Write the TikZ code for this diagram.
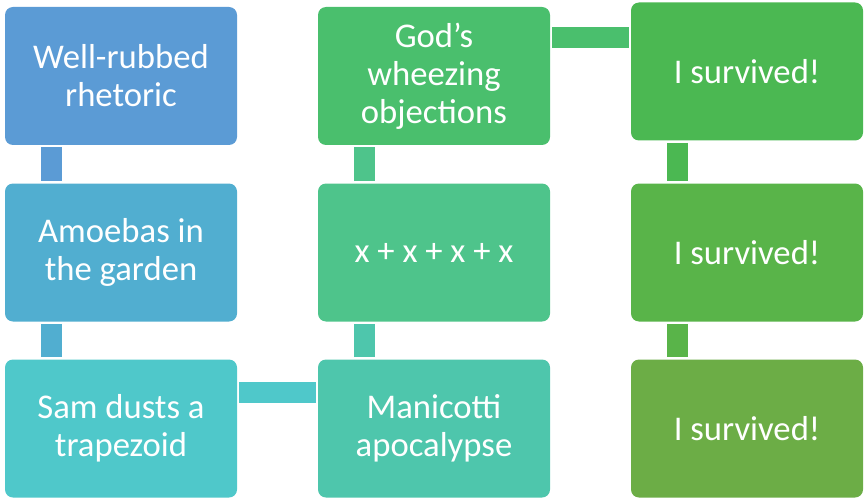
\documentclass[tikz,border=0pt]{standalone}
\usepackage{fontspec}
\setmainfont{Carlito}
\definecolor{cA}{HTML}{5B9BD5}
\definecolor{cB}{HTML}{51AED0}
\definecolor{cC}{HTML}{4FC8CA}
\definecolor{cD}{HTML}{4EC6AC}
\definecolor{cE}{HTML}{4EC48B}
\definecolor{cF}{HTML}{4ABF6D}
\definecolor{cG}{HTML}{4BB852}
\definecolor{cH}{HTML}{59B449}
\definecolor{cI}{HTML}{6CAD46}
\tikzset{blk/.style = {rounded corners = 6pt, inner sep = 0, minimum width = 174pt, minimum height = 103.5pt, text = white, align = center, font = \fontsize{26}{28.5}\selectfont}}
\tikzset{bar/.style = {line width = 15.75pt, shorten > = 1.5pt, shorten < = 1.5pt}}

\begin{document}
\begin{tikzpicture}[x=0.75pt, y=-0.75pt]
\useasboundingbox (0,0) rectangle (866,499);
\node [blk, fill=cA] (a) at (121,76) {Well-rubbed\\rhetoric};
\node [blk, fill=cB] (b) at (121,252.5) {Amoebas in\\the garden};
\node [blk, fill=cC] (c) at (121,428.5) {Sam dusts a\\trapezoid};
\node [blk, fill=cD] (d) at (434,428.5) {Manicotti\\apocalypse};
\node [blk, fill=cE] (e) at (434,252.5) {x + x + x + x};
\node [blk, fill=cF] (f) at (434,76) {God’s\\wheezing\\objections};
\node [blk, fill=cG] (g) at (747,71.5) {I survived!};
\node [blk, fill=cH] (h) at (747,252.5) {I survived!};
\node [blk, fill=cI] (i) at (747,428.5) {I survived!};
\draw [bar, cA] ([xshift=35pt]a.south west) -- ([xshift=35pt]b.north west);
\draw [bar, cB] ([xshift=35pt]b.south west) -- ([xshift=35pt]c.north west);
\draw [bar, cC] ([yshift=-25pt]c.north east) -- ([yshift=-25pt]d.north west);
\draw [bar, cD] ([xshift=35pt]d.north west) -- ([xshift=35pt]e.south west);
\draw [bar, cE] ([xshift=35pt]e.north west) -- ([xshift=35pt]f.south west);
\coordinate (fg) at ([yshift=-23.25pt]f.north east);
\draw [bar, cF] (fg) -- (fg -| g.west);
\draw [bar, cG] ([xshift=35pt]g.south west) -- ([xshift=35pt]h.north west);
\draw [bar, cH] ([xshift=35pt]h.south west) -- ([xshift=35pt]i.north west);
\end{tikzpicture}
\end{document}
